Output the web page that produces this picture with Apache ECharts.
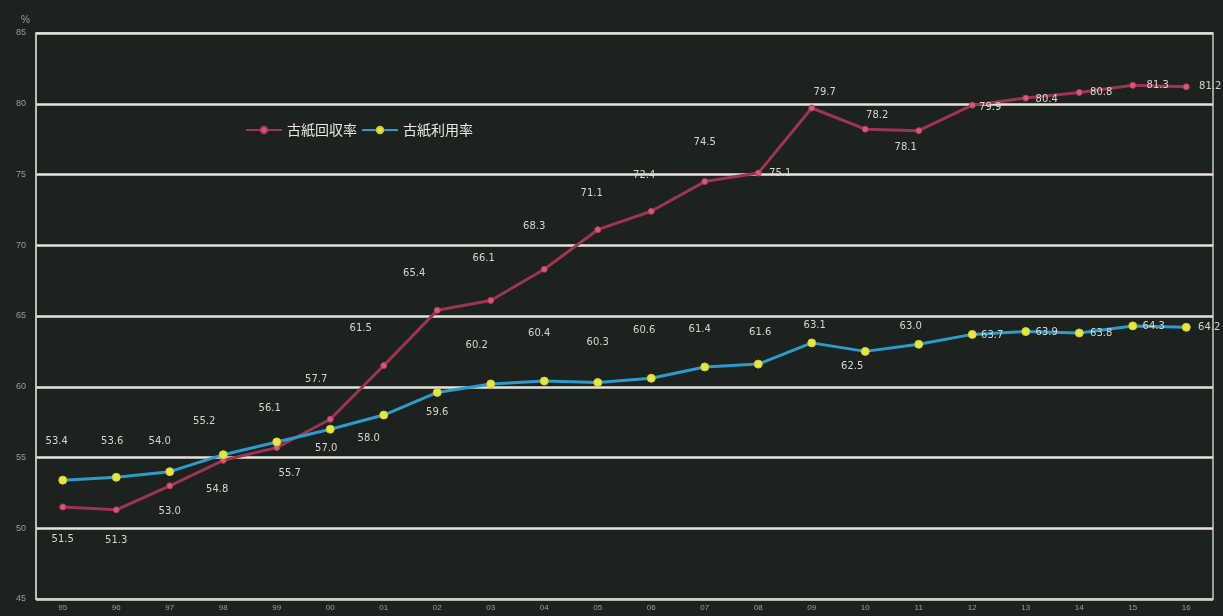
<!DOCTYPE html>
<html>
<head>
<meta charset="utf-8">
<script src="https://cdn.jsdelivr.net/npm/echarts@6/dist/echarts.min.js"></script>
<style>
  html, body { margin: 0; padding: 0; background: #1c221d; }
  #chart { width: 1223px; height: 616px; }
</style>
</head>
<body>
<div id="chart"></div>
<script>
// years (1995 - 2016)
var years = ['95', '96', '97', '98', '99', '00', '01', '02', '03', '04', '05',
  '06', '07', '08', '09', '10', '11', '12', '13', '14', '15', '16'];
// 古紙回収率 (%)
var recovery = [51.5, 51.3, 53.0, 54.8, 55.7, 57.7, 61.5, 65.4, 66.1, 68.3, 71.1,
  72.4, 74.5, 75.1, 79.7, 78.2, 78.1, 79.9, 80.4, 80.8, 81.3, 81.2];
// 古紙利用率 (%)
var utilization = [53.4, 53.6, 54.0, 55.2, 56.1, 57.0, 58.0, 59.6, 60.2, 60.4, 60.3,
  60.6, 61.4, 61.6, 63.1, 62.5, 63.0, 63.7, 63.9, 63.8, 64.3, 64.2];

// label offsets (px, from the point) -- layout only
var recoveryLabelOff = [[0, 32], [0, 31], [0, 26], [-6, 29], [13, 26], [-14, -40], [-23, -37],
  [-23, -37], [-7, -42], [-10, -43], [-6, -36], [-7, -36], [0, -39], [22, 0], [13, -16],
  [12, -14], [-13, 17], [18, 2], [21, 1], [22, 0], [25, 0], [24, 0]];
var utilLabelOff = [[-6, -39], [-4, -36], [-10, -30], [-19, -33], [-7, -34], [-4, 19], [-15, 23],
  [0, 20], [-14, -39], [-5, -48], [0, -40], [-7, -48], [-5, -38], [2, -32], [3, -17],
  [-13, 15], [-8, -18], [20, 1], [21, 1], [22, 0], [21, 1], [23, 0]];

function withLabels(vals, offs) {
  return vals.map(function (v, i) {
    return { value: v, label: { offset: offs[i] } };
  });
}

var chart = echarts.init(document.getElementById('chart'));
var labelStyle = {
  show: true,
  position: 'inside',
  color: '#d6d6cc',
  fontSize: 10,
  fontFamily: 'DejaVu Sans',
  formatter: function (p) { return p.value.toFixed(1); }
};

chart.setOption({
  backgroundColor: '#1c221d',
  animation: false,
  grid: {
    left: 36, right: 10, top: 33, bottom: 17,
    show: true,
    borderColor: '#c8c8c0',
    borderWidth: 1.5
  },
  legend: {
    left: 240,
    top: 118,
    itemGap: 4,
    itemWidth: 36,
    itemHeight: 8,
    textStyle: { color: '#e8e8e0', fontSize: 14, fontFamily: 'Noto Sans CJK JP' },
    data: ['古紙回収率', '古紙利用率']
  },
  xAxis: {
    type: 'category',
    boundaryGap: true,
    data: years,
    axisLine: { lineStyle: { color: '#c8c8c0', width: 1.5 } },
    axisTick: { show: false },
    axisLabel: { color: '#9a9e98', fontSize: 8, margin: 5 }
  },
  yAxis: {
    type: 'value',
    min: 45,
    max: 85,
    interval: 5,
    name: '%',
    nameGap: 8,
    nameTextStyle: { color: '#9a9e98', fontSize: 10, align: 'right', padding: [0, 6, 0, 0] },
    axisLine: { show: true, lineStyle: { color: '#c8c8c0', width: 1.5 } },
    axisTick: { show: false },
    axisLabel: { color: '#9a9e98', fontSize: 9, margin: 10 },
    splitLine: { lineStyle: { color: '#e4e4dc', width: 2.5 } }
  },
  series: [
    {
      name: '古紙回収率',
      type: 'line',
      data: withLabels(recovery, recoveryLabelOff),
      symbol: 'circle',
      symbolSize: 6,
      lineStyle: { color: '#9c3553', width: 3 },
      itemStyle: { color: '#d8587a', borderColor: '#b23a5c', borderWidth: 1 },
      label: labelStyle,
      z: 3
    },
    {
      name: '古紙利用率',
      type: 'line',
      data: withLabels(utilization, utilLabelOff),
      symbol: 'circle',
      symbolSize: 8,
      lineStyle: { color: '#2c9ccc', width: 3 },
      itemStyle: { color: '#e6e83a', borderColor: '#d8c83a', borderWidth: 1 },
      label: labelStyle,
      z: 4
    }
  ]
});
</script>
</body>
</html>
